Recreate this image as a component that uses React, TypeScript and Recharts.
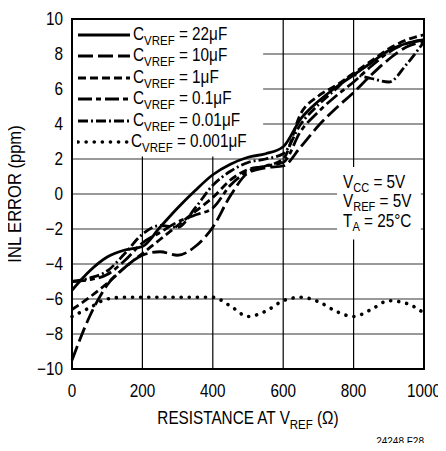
import { LineChart, Line, XAxis, YAxis, CartesianGrid, ReferenceArea, Legend, Label } from "recharts";

const FONT = "'Liberation Sans', Arial, sans-serif";
const SX = 0.85;

const resistance = [0, 50, 100, 150, 200, 250, 300, 350, 400, 450, 500, 550, 600, 650, 700, 750, 800, 850, 900, 950, 1000];
const c22u = [-5.5, -4.4, -3.6, -3.2, -3.0, -1.9, -0.8, 0.2, 1.1, 1.7, 2.1, 2.3, 2.7, 4.3, 5.3, 6.1, 6.8, 7.5, 8.2, 8.6, 8.8];
const c10u = [-9.5, -7.0, -5.2, -4.2, -3.5, -3.3, -3.5, -3.0, -1.9, -0.1, 1.2, 1.5, 1.6, 2.7, 3.9, 4.9, 5.8, 6.8, 7.7, 8.4, 8.7];
const c1u = [-6.6, -5.9, -5.1, -4.2, -3.4, -2.6, -1.8, -1.0, -0.2, 0.8, 1.4, 1.6, 2.0, 4.6, 5.6, 6.2, 6.9, 7.6, 8.3, 8.8, 9.1];
const c100n = [-5.0, -4.9, -4.6, -3.8, -2.8, -2.2, -1.6, -1.2, -0.8, 0.5, 1.3, 1.6, 1.8, 3.6, 4.7, 5.6, 6.4, 7.3, 8.1, 8.6, 8.8];
const c10n = [-5.0, -4.8, -4.4, -3.4, -2.3, -1.8, -1.9, -0.8, 0.5, 1.3, 1.8, 2.0, 2.3, 4.0, 5.1, 6.0, 6.8, 6.6, 6.4, 7.4, 8.7];
const c1n = [-7.0, -6.5, -6.0, -5.9, -5.9, -5.9, -5.9, -5.9, -5.9, -6.4, -7.0, -6.7, -6.1, -5.9, -6.15, -6.7, -7.0, -6.6, -6.1, -6.25, -6.8];

const xTicks = [0, 200, 400, 600, 800, 1000];
const yTicks = [-10, -8, -6, -4, -2, 0, 2, 4, 6, 8, 10];

const series = [
  { key: "c22u", value: "22μF", dash: undefined, width: 2.8, cap: "butt" },
  { key: "c10u", value: "10μF", dash: "15 5", width: 2.8, cap: "butt" },
  { key: "c1u", value: "1μF", dash: "8 4", width: 2.8, cap: "butt" },
  { key: "c100n", value: "0.1μF", dash: "14 4 5 4", width: 2.8, cap: "butt" },
  { key: "c10n", value: "0.01μF", dash: "10 3 2 3", width: 2.8, cap: "butt" },
  { key: "c1n", value: "0.001μF", dash: "0.1 8", width: 3.6, cap: "round" },
];

const data = resistance.map((r, i) => ({
  r,
  c22u: c22u[i],
  c10u: c10u[i],
  c1u: c1u[i],
  c100n: c100n[i],
  c10n: c10n[i],
  c1n: c1n[i],
}));

// condensed look: Liberation Sans squeezed horizontally
function NText({ x, y, anchor, rotate, dy, sx, size, children }: any) {
  const rot = rotate ? ` rotate(${rotate})` : "";
  return (
    <text transform={`translate(${x} ${y})${rot} scale(${sx || SX} 1)`} x={0} y={0} dy={dy}
      textAnchor={anchor || "start"} fontFamily={FONT} fontSize={size || 18} fill="#000">
      {children}
    </text>
  );
}

function XTick(props: any) {
  return <NText x={props.x} y={props.y} dy="0.71em" anchor="middle">{props.payload.value}</NText>;
}

function YTick(props: any) {
  const v = String(props.payload.value).replace("-", "\u2212");
  return <NText x={props.x} y={props.y} dy="0.355em" anchor="end">{v}</NText>;
}

function LegendBox() {
  return (
    <div style={{ fontFamily: FONT, fontSize: 18, color: "#000", lineHeight: "21.5px" }}>
      {series.map((s) => (
        <div key={s.key} style={{ display: "flex", alignItems: "center", height: 21.5, whiteSpace: "nowrap" }}>
          <svg width={54} height={8} style={{ marginRight: 2 }}>
            <line x1={1} y1={4} x2={53} y2={4} stroke="#000" strokeWidth={s.width}
              strokeDasharray={s.dash} strokeLinecap={s.cap as any} />
          </svg>
          <span style={{ display: "inline-block", transform: `scaleX(${SX})`, transformOrigin: "left center" }}>
            C<span style={{ fontSize: 13.5, position: "relative", top: 5 }}>VREF</span> = {s.value}
          </span>
        </div>
      ))}
    </div>
  );
}

function Conditions(props: any) {
  const vb = props.viewBox || {};
  return (
    <NText x={vb.x + 6} y={vb.y + 21}>
      <tspan x={0}>V</tspan>
      <tspan fontSize={13} dy={4}>CC</tspan>
      <tspan dy={-4}> = 5V</tspan>
      <tspan x={0} dy={19.5}>V</tspan>
      <tspan fontSize={13} dy={4}>REF</tspan>
      <tspan dy={-4}> = 5V</tspan>
      <tspan x={0} dy={19.5}>T</tspan>
      <tspan fontSize={13} dy={4}>A</tspan>
      <tspan dy={-4}> = 25°C</tspan>
    </NText>
  );
}

function XTitle(props: any) {
  const vb = props.viewBox || {};
  return (
    <NText x={vb.x + vb.width / 2} y={424} anchor="middle">
      RESISTANCE AT V<tspan fontSize={13.5} dy={5}>REF</tspan>
      <tspan dy={-5}> (Ω)</tspan>
    </NText>
  );
}

function YTitle(props: any) {
  const vb = props.viewBox || {};
  const cy = vb.y + vb.height / 2;
  return <NText x={21} y={cy} rotate={-90} anchor="middle" sx={0.92}>INL ERROR (ppm)</NText>;
}

export default function App() {
  return (
    <div style={{ position: "relative", width: 446, height: 451, margin: -8, background: "#fff" }}>
      <LineChart width={446} height={451} data={data} margin={{ top: 19, right: 22, bottom: 52, left: 0 }}>
        <CartesianGrid vertical={false} stroke="#777" strokeWidth={1.5} />
        <CartesianGrid horizontal={false} stroke="#000" strokeWidth={1.2} />
        <XAxis dataKey="r" type="number" domain={[0, 1000]} ticks={xTicks} interval={0} height={30}
          tickLine={false} axisLine={false} tickMargin={9} tick={<XTick />}>
          <Label content={<XTitle />} />
        </XAxis>
        <YAxis type="number" domain={[-10, 10]} ticks={yTicks} interval={0} width={72}
          tickLine={false} axisLine={false} tickMargin={3} tick={<YTick />}>
          <Label content={<YTitle />} />
        </YAxis>
        <ReferenceArea x1={0} x2={543} y1={2.15} y2={10} fill="#fff" fillOpacity={1} stroke="none" />
        <ReferenceArea x1={753} x2={991} y1={-2.6} y2={1.55} fill="#fff" fillOpacity={1} stroke="none"
          label={<Conditions />} />
        {series.map((s) => (
          <Line key={s.key} dataKey={s.key} type="monotone" stroke="#000" strokeWidth={s.width}
            strokeDasharray={s.dash} strokeLinecap={s.cap as any} dot={false} activeDot={false}
            isAnimationActive={false} />
        ))}
        <ReferenceArea x1={0} x2={1000} y1={-10} y2={10} fill="none" stroke="#000" strokeWidth={2} />
        <Legend layout="vertical" align="center" verticalAlign="middle" content={<LegendBox />}
          wrapperStyle={{ top: 24, left: 77, width: 190, height: 135 }} />
      </LineChart>
      <div style={{ position: "absolute", right: 22, top: 436, fontFamily: FONT, fontSize: 10,
        lineHeight: "12px", color: "#000", zIndex: 5 }}>
        24248 F28
      </div>
    </div>
  );
}
